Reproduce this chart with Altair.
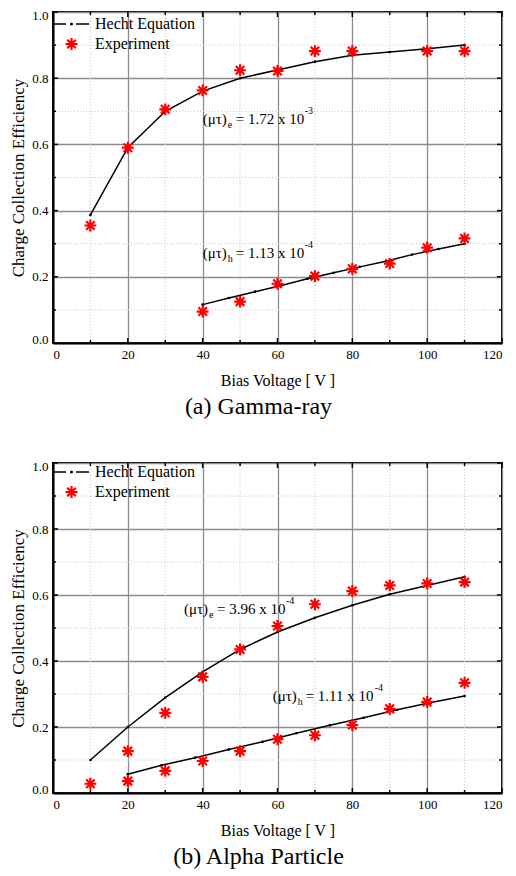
import altair as alt
import pandas as pd

FONT = "Liberation Serif"
W = 449

# ---------------- data ----------------
volts = [10, 20, 30, 40, 50, 60, 70, 80, 90, 100, 110]

# (a) Gamma-ray
gamma_e_hecht = [0.387, 0.59, 0.70, 0.761, 0.80, 0.825, 0.85, 0.869, 0.879, 0.889, 0.90]
gamma_e_exp_v = [10, 20, 30, 40, 50, 60, 70, 80, 100, 110]
gamma_e_exp = [0.355, 0.59, 0.706, 0.763, 0.824, 0.822, 0.882, 0.882, 0.882, 0.882]
gamma_h_hecht_v = [40, 47, 54, 61, 68, 75, 82, 89, 96, 103, 110]
gamma_h_hecht = [0.116, 0.136, 0.155, 0.174, 0.194, 0.212, 0.230, 0.247, 0.267, 0.284, 0.300]
gamma_h_exp_v = [40, 50, 60, 70, 80, 90, 100, 110]
gamma_h_exp = [0.095, 0.125, 0.179, 0.202, 0.224, 0.240, 0.288, 0.316]

# (b) Alpha particle
alpha_e_hecht = [0.10, 0.20, 0.289, 0.367, 0.435, 0.488, 0.531, 0.569, 0.602, 0.629, 0.655]
alpha_e_exp = [0.028, 0.127, 0.243, 0.352, 0.435, 0.506, 0.572, 0.612, 0.629, 0.635, 0.639]
alpha_h_hecht_v = [20, 29, 38, 47, 56, 65, 74, 83, 92, 101, 110]
alpha_h_hecht = [0.057, 0.084, 0.107, 0.132, 0.155, 0.181, 0.205, 0.228, 0.252, 0.274, 0.294]
alpha_h_exp_v = [20, 30, 40, 50, 60, 70, 80, 90, 100, 110]
alpha_h_exp = [0.036, 0.067, 0.097, 0.127, 0.163, 0.175, 0.206, 0.255, 0.276, 0.334]

x_major = [0, 20, 40, 60, 80, 100, 120]
x_minor = [10, 30, 50, 70, 90, 110]
y_major = [0.0, 0.2, 0.4, 0.6, 0.8, 1.0]
y_minor = [0.1, 0.3, 0.5, 0.7, 0.9]

STAR = "M-1,0L1,0M0,-1L0,1M-0.72,-0.72L0.72,0.72M-0.72,0.72L0.72,-0.72"

xs = alt.Scale(domain=[0, 120], nice=False, zero=False)
ys = alt.Scale(domain=[0, 1], nice=False, zero=False)

AXIS_STYLE = dict(
    grid=True, labelFont=FONT, labelFontSize=13, labelColor="black",
    titleFont=FONT, titleFontWeight="normal", titleColor="black",
    domainColor="black", domainWidth=2, ticks=False,
    gridColor="#8c8c8c", gridWidth=1.3,
)
AX = alt.Axis(values=x_major, title="Bias Voltage [ V ]", format="d", labelFlush=True,
              labelPadding=5, titlePadding=11, titleFontSize=16, **AXIS_STYLE)
AY = alt.Axis(values=y_major, title="Charge Collection Efficiency", format=".1f",
              labelFlush=True, labelFlushOffset=3,
              labelPadding=5, titlePadding=4, titleFontSize=17, **AXIS_STYLE)


def df(xv, yv):
    return pd.DataFrame({"x": xv, "y": yv})


def XF():
    return alt.X("x:Q", scale=xs, axis=AX)


def YF():
    return alt.Y("y:Q", scale=ys, axis=AY)


def panel(H, e_v, e_h, e_xv, e_x, h_v, h_h, h_xv, h_x, ann_e, ann_h, title, leg_y):
    # minor dotted grid
    gx = alt.Chart(pd.DataFrame({"x": x_minor})).mark_rule(
        color="#c4c4c4", strokeDash=[1, 2], strokeWidth=1
    ).encode(x=XF(), y=alt.value(0), y2=alt.value(H))
    gy = alt.Chart(pd.DataFrame({"y": y_minor})).mark_rule(
        color="#c4c4c4", strokeDash=[1, 2], strokeWidth=1
    ).encode(y=YF(), x=alt.value(0), x2=alt.value(W))

    # Hecht equation curves
    def hecht(xv, yv):
        return alt.Chart(df(xv, yv)).mark_line(
            color="black", strokeWidth=1.5,
            point=alt.OverlayMarkDef(filled=True, color="black", size=7)
        ).encode(x=XF(), y=YF())

    def stars(xv, yv):
        return alt.Chart(df(xv, yv)).mark_point(
            shape=STAR, filled=False, stroke="#ff0000", strokeWidth=2.2, size=140, opacity=1
        ).encode(x=XF(), y=YF())

    # inward ticks on all four sides
    ticks = []
    for vals, ln in ((x_major, 5), (x_minor, 3)):
        d = pd.DataFrame({"x": vals})
        ticks.append(alt.Chart(d).mark_rule(color="black", strokeWidth=1.5).encode(
            x=XF(), y=alt.value(H), y2=alt.value(H - ln)))
        ticks.append(alt.Chart(d).mark_rule(color="black", strokeWidth=1.5).encode(
            x=XF(), y=alt.value(0), y2=alt.value(ln)))
    for vals, ln in ((y_major, 5), (y_minor, 3)):
        d = pd.DataFrame({"y": vals})
        ticks.append(alt.Chart(d).mark_rule(color="black", strokeWidth=1.5).encode(
            y=YF(), x=alt.value(0), x2=alt.value(ln)))
        ticks.append(alt.Chart(d).mark_rule(color="black", strokeWidth=1.5).encode(
            y=YF(), x=alt.value(W), x2=alt.value(W - ln)))

    # annotations  (mu tau)_sub = value x 10^exp
    def annotation(a):
        ax, ay, sub, body, sup = a
        one = pd.DataFrame({"k": [0]})
        enc = dict(x=alt.X(datum=ax, scale=xs, axis=AX), y=alt.Y(datum=ay, scale=ys, axis=AY))
        m1 = alt.Chart(one).mark_text(text="(\u03bc\u03c4)", font=FONT, fontSize=15, align="left",
                                       baseline="middle", color="black").encode(**enc)
        m2 = alt.Chart(one).mark_text(text=sub, font=FONT, fontSize=10, align="left",
                                       baseline="middle", dx=25, dy=6, color="black").encode(**enc)
        m3 = alt.Chart(one).mark_text(text=body, font=FONT, fontSize=15, align="left",
                                       baseline="middle", dx=33, color="black").encode(**enc)
        m4 = alt.Chart(one).mark_text(text=sup, font=FONT, fontSize=10, align="left",
                                       baseline="middle", dx=102, dy=-8, color="black").encode(**enc)
        return [m1, m2, m3, m4]

    # legend
    one = pd.DataFrame({"k": [0]})
    l_line = alt.Chart(one).mark_rule(color="black", strokeWidth=1.5, strokeDash=[13, 10]).encode(
        x=alt.value(0), x2=alt.value(37), y=alt.value(leg_y))
    l_dot = alt.Chart(one).mark_point(filled=True, color="black", size=9, opacity=1).encode(
        x=alt.value(18.5), y=alt.value(leg_y))
    l_t1 = alt.Chart(one).mark_text(text="Hecht Equation", font=FONT, fontSize=16, align="left",
                                    baseline="middle", color="black").encode(
        x=alt.value(42), y=alt.value(leg_y))
    l_star = alt.Chart(one).mark_point(shape=STAR, filled=False, stroke="#ff0000", strokeWidth=2.2,
                                       size=140, opacity=1).encode(
        x=alt.value(18.5), y=alt.value(leg_y + 20))
    l_t2 = alt.Chart(one).mark_text(text="Experiment", font=FONT, fontSize=16, align="left",
                                    baseline="middle", color="black").encode(
        x=alt.value(42), y=alt.value(leg_y + 20))

    layers = [gx, gy, hecht(e_v, e_h), hecht(h_v, h_h), stars(e_xv, e_x), stars(h_xv, h_x)] + ticks \
        + annotation(ann_e) + annotation(ann_h) + [l_line, l_dot, l_t1, l_star, l_t2]
    return alt.layer(*layers).properties(
        width=W, height=H,
        title=alt.TitleParams(title, orient="bottom", fontSize=24, font=FONT,
                              fontWeight="normal", color="black", offset=7, anchor="middle",
                              dx=-19),
    )


top = panel(331, volts, gamma_e_hecht, gamma_e_exp_v, gamma_e_exp,
            gamma_h_hecht_v, gamma_h_hecht, gamma_h_exp_v, gamma_h_exp,
            (40, 0.677, "e", "= 1.72 x 10", "-3"),
            (40, 0.272, "h", "= 1.13 x 10", "-4"),
            "(a) Gamma-ray", 12)

bottom = panel(330, volts, alpha_e_hecht, volts, alpha_e_exp,
               alpha_h_hecht_v, alpha_h_hecht, alpha_h_exp_v, alpha_h_exp,
               (35, 0.558, "e", "= 3.96 x 10", "-4"),
               (58.7, 0.294, "h", "= 1.11 x 10", "-4"),
               "(b) Alpha Particle", 9)

chart = alt.vconcat(top, bottom, spacing=39).properties(
    padding={"left": 0, "top": 0, "right": 0, "bottom": 0}, background="white"
).configure_view(stroke="black", strokeWidth=2)

chart.save("out.html", embed_options={"renderer": "svg", "actions": False})
